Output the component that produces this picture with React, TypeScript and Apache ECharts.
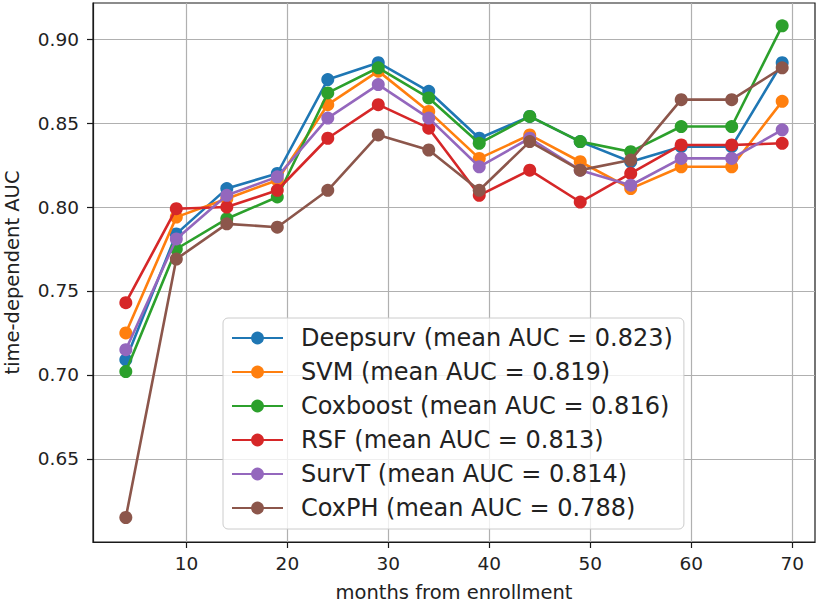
import React, { useEffect, useRef } from "react";
import * as echarts from "echarts";

const months = [4, 9, 14, 19, 24, 29, 34, 39, 44, 49, 54, 59, 64, 69];
const seriesNames = [
  "Deepsurv (mean AUC = 0.823)",
  "SVM (mean AUC = 0.819)",
  "Coxboost (mean AUC = 0.816)",
  "RSF (mean AUC = 0.813)",
  "SurvT (mean AUC = 0.814)",
  "CoxPH (mean AUC = 0.788)",
];
const deepsurv = [0.709, 0.784, 0.811, 0.82, 0.876, 0.886, 0.869, 0.841, 0.854, 0.839, 0.827, 0.836, 0.836, 0.886];
const svm = [0.725, 0.794, 0.805, 0.816, 0.861, 0.881, 0.857, 0.829, 0.843, 0.827, 0.811, 0.824, 0.824, 0.863];
const coxboost = [0.702, 0.775, 0.793, 0.806, 0.868, 0.883, 0.865, 0.838, 0.854, 0.839, 0.833, 0.848, 0.848, 0.908];
const rsf = [0.743, 0.799, 0.8, 0.81, 0.841, 0.861, 0.847, 0.807, 0.822, 0.803, 0.82, 0.837, 0.837, 0.838];
const survt = [0.715, 0.781, 0.807, 0.818, 0.853, 0.873, 0.853, 0.824, 0.841, 0.822, 0.813, 0.829, 0.829, 0.846];
const coxph = [0.615, 0.769, 0.79, 0.788, 0.81, 0.843, 0.834, 0.81, 0.839, 0.822, 0.828, 0.864, 0.864, 0.883];
const colors = ["#1f77b4", "#ff7f0e", "#2ca02c", "#d62728", "#9467bd", "#8c564b"];
const xTicks = [10, 20, 30, 40, 50, 60, 70];
const yTicks = [0.65, 0.7, 0.75, 0.8, 0.85, 0.9];

const allValues = [deepsurv, svm, coxboost, rsf, survt, coxph];

export default function App() {
  const ref = useRef<HTMLDivElement>(null);
  useEffect(() => {
    if (!ref.current) return;
    const chart = echarts.init(ref.current, undefined, { renderer: "svg" });
    const font = "DejaVu Sans";
    const option = {
      animation: false,
      backgroundColor: "#ffffff",
      color: colors,
      grid: {
        left: 93,
        right: 5,
        top: 3,
        bottom: 60,
        containLabel: false,
        outerBoundsMode: "none",
        show: true,
        borderColor: "#1a1a1a",
        borderWidth: 1.2,
        backgroundColor: "transparent",
      },
      legend: {
        orient: "vertical",
        left: 223,
        top: 318,
        padding: [8, 11, 9, 8],
        itemWidth: 51,
        itemHeight: 16,
        itemGap: 10,
        backgroundColor: "rgba(255,255,255,0.8)",
        borderColor: "#cccccc",
        borderWidth: 1,
        borderRadius: 5,
        textStyle: {
          fontFamily: font,
          fontSize: 24,
          lineHeight: 24,
          color: "#222222",
          padding: [0, 0, 0, 13],
        },
        data: seriesNames,
      },
      xAxis: {
        type: "value",
        min: 0.75,
        max: 72.25,
        name: "months from enrollment",
        nameLocation: "middle",
        nameGap: 40,
        nameTextStyle: { fontFamily: font, fontSize: 19.5, color: "#222222" },
        axisLine: { show: true, lineStyle: { color: "#1a1a1a", width: 1.2 } },
        axisTick: {
          show: true,
          inside: false,
          length: 6,
          customValues: xTicks,
          lineStyle: { color: "#1a1a1a", width: 1.2 },
        },
        axisLabel: {
          customValues: xTicks,
          margin: 12,
          fontFamily: font,
          fontSize: 18.5,
          color: "#222222",
        },
        splitLine: { show: true, lineStyle: { color: "#b0b0b0", width: 1.2 } },
      },
      yAxis: {
        type: "value",
        min: 0.6004,
        max: 0.9216,
        name: "time-dependent AUC",
        nameLocation: "middle",
        nameGap: 71,
        nameTextStyle: { fontFamily: font, fontSize: 19.5, color: "#222222" },
        axisLine: { show: true, lineStyle: { color: "#1a1a1a", width: 1.2 } },
        axisTick: {
          show: true,
          inside: false,
          length: 6,
          customValues: yTicks,
          lineStyle: { color: "#1a1a1a", width: 1.2 },
        },
        axisLabel: {
          customValues: yTicks,
          margin: 14,
          fontFamily: font,
          fontSize: 18.5,
          color: "#222222",
          formatter: (v: number) => v.toFixed(2),
        },
        splitLine: { show: true, lineStyle: { color: "#b0b0b0", width: 1.2 } },
      },
      series: allValues.map((vals, i) => ({
        name: seriesNames[i],
        type: "line",
        data: months.map((m, j) => [m, vals[j]]),
        symbol: "circle",
        symbolSize: 13,
        showSymbol: true,
        itemStyle: { color: colors[i] },
        lineStyle: { color: colors[i], width: 2.6 },
        z: 2 + i,
      })),
    };
    chart.setOption(option as any);
    return () => chart.dispose();
  }, []);
  return (
    <div
      ref={ref}
      style={{ position: "fixed", left: 0, top: 0, width: 820, height: 602 }}
    />
  );
}
